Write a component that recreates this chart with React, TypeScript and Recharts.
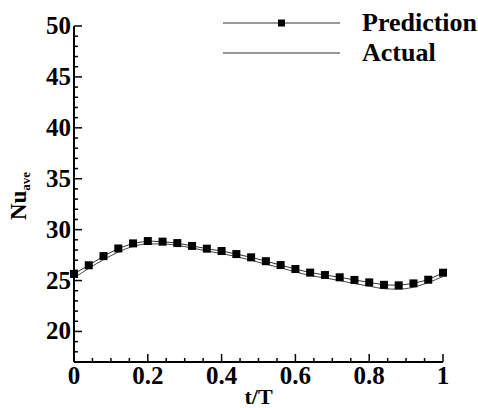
import { Line, LineChart, XAxis, YAxis } from "recharts";

// t/T sample positions (one marker every 0.04)
const tValues = [
  0, 0.04, 0.08, 0.12, 0.16, 0.2, 0.24, 0.28, 0.32, 0.36, 0.4, 0.44, 0.48,
  0.52, 0.56, 0.6, 0.64, 0.68, 0.72, 0.76, 0.8, 0.84, 0.88, 0.92, 0.96, 1,
];

const prediction = [
  25.65, 26.5, 27.4, 28.15, 28.65, 28.88, 28.82, 28.68, 28.4, 28.13, 27.9,
  27.6, 27.28, 26.9, 26.52, 26.13, 25.78, 25.55, 25.32, 25.06, 24.82, 24.58,
  24.53, 24.72, 25.08, 25.77,
];

const actual = [
  25.25, 26.2, 27.05, 27.8, 28.35, 28.6, 28.6, 28.45, 28.2, 27.9, 27.65,
  27.35, 27.0, 26.6, 26.25, 25.85, 25.5, 25.25, 25.0, 24.7, 24.45, 24.2,
  24.15, 24.35, 24.8, 25.4,
];

const xTicks = [
  0, 0.05, 0.1, 0.15, 0.2, 0.25, 0.3, 0.35, 0.4, 0.45, 0.5, 0.55, 0.6, 0.65,
  0.7, 0.75, 0.8, 0.85, 0.9, 0.95, 1,
];
const xMajor = ["0", "0.2", "0.4", "0.6", "0.8", "1"];

const yTicks = [
  17, 18, 19, 20, 21, 22, 23, 24, 25, 26, 27, 28, 29, 30, 31, 32, 33, 34, 35,
  36, 37, 38, 39, 40, 41, 42, 43, 44, 45, 46, 47, 48, 49, 50,
];
const yMajor = ["20", "25", "30", "35", "40", "45", "50"];

const legendItems = ["Prediction", "Actual"];

const data = tValues.map((t, i) => ({
  t,
  prediction: prediction[i],
  actual: actual[i],
}));

const FONT = "Liberation Serif, Times New Roman, serif";

function fmtX(v: number): string {
  return String(Math.round(v * 10) / 10);
}

function XTick(props: any) {
  const { x, y, payload } = props;
  const label = fmtX(payload.value);
  const major = xMajor.includes(label) && Math.abs(payload.value * 5 - Math.round(payload.value * 5)) < 1e-6;
  return (
    <g>
      <line x1={x} y1={y} x2={x} y2={y - (major ? 8 : 4)} stroke="#000" strokeWidth={1.5} />
      {major && (
        <text
          x={x}
          y={y + 22}
          textAnchor="middle"
          style={{ fontFamily: FONT, fontWeight: 700, fontSize: 25 }}
          fill="#000"
        >
          {label}
        </text>
      )}
    </g>
  );
}

function YTick(props: any) {
  const { x, y, payload } = props;
  const label = String(payload.value);
  const major = yMajor.includes(label);
  return (
    <g>
      <line x1={x} y1={y} x2={x + (major ? 8 : 4)} y2={y} stroke="#000" strokeWidth={1.5} />
      {major && (
        <text
          x={x - 3}
          y={y + 8}
          textAnchor="end"
          style={{ fontFamily: FONT, fontWeight: 700, fontSize: 25 }}
          fill="#000"
        >
          {label}
        </text>
      )}
    </g>
  );
}

function NuLabel(props: any) {
  const vb = props.viewBox || { x: 0, y: 0, height: 0 };
  const cx = vb.x + 26;
  const cy = vb.y + vb.height / 2 + 2;
  return (
    <text
      transform={`translate(${cx}, ${cy}) rotate(-90)`}
      textAnchor="middle"
      style={{ fontFamily: FONT, fontWeight: 700, fontSize: 23 }}
      fill="#000"
    >
      Nu
      <tspan style={{ fontSize: 13 }} dy={4}>
        ave
      </tspan>
    </text>
  );
}

function TLabel(props: any) {
  const vb = props.viewBox || { x: 0, y: 0, width: 0, height: 0 };
  return (
    <text
      x={vb.x + vb.width / 2}
      y={vb.y + vb.height - 4}
      textAnchor="middle"
      style={{ fontFamily: FONT, fontWeight: 700, fontSize: 22 }}
      fill="#000"
    >
      t/T
    </text>
  );
}

function SquareDot(props: any) {
  const { cx, cy } = props;
  if (cx == null || cy == null) return null;
  return <rect x={cx - 4} y={cy - 4} width={8} height={8} fill="#000" />;
}

function LegendBox() {
  return (
    <div
      style={{
        position: "absolute",
        left: 223,
        top: 8,
        fontFamily: FONT,
        fontWeight: 700,
        fontSize: 26,
        color: "#000",
      }}
    >
      {legendItems.map((name, i) => (
        <div key={name} style={{ display: "flex", alignItems: "center", height: 30 }}>
          <svg width={117} height={30} style={{ display: "block" }}>
            <line x1={0} y1={15} x2={117} y2={15} stroke="#333" strokeWidth={1} />
            {i === 0 && <rect x={55} y={11.5} width={7} height={7} fill="#000" />}
          </svg>
          <span style={{ marginLeft: 22, lineHeight: "30px" }}>{name}</span>
        </div>
      ))}
    </div>
  );
}

export default function App() {
  return (
    <div style={{ position: "absolute", left: 0, top: 0, width: 478, height: 408, background: "#fff" }}>
      <LineChart
        width={478}
        height={408}
        data={data}
        margin={{ top: 26, right: 35, bottom: 0, left: 0 }}
      >
        <XAxis
          dataKey="t"
          type="number"
          domain={[0, 1]}
          ticks={xTicks}
          interval={0}
          tickSize={0}
          tickMargin={0}
          tickLine={false}
          tick={<XTick />}
          axisLine={{ stroke: "#000", strokeWidth: 2 }}
          height={46}
          label={<TLabel />}
        />
        <YAxis
          type="number"
          domain={[17, 50]}
          ticks={yTicks}
          interval={0}
          tickSize={0}
          tickMargin={0}
          tickLine={false}
          tick={<YTick />}
          axisLine={{ stroke: "#000", strokeWidth: 2 }}
          width={74}
          allowDataOverflow
          label={<NuLabel />}
        />
        <Line
          type="monotone"
          dataKey="actual"
          name="Actual"
          stroke="#444"
          strokeWidth={1}
          dot={false}
          activeDot={false}
          isAnimationActive={false}
        />
        <Line
          type="linear"
          dataKey="prediction"
          name="Prediction"
          stroke="#333"
          strokeWidth={1}
          dot={<SquareDot />}
          activeDot={false}
          isAnimationActive={false}
        />
      </LineChart>
      <LegendBox />
    </div>
  );
}
